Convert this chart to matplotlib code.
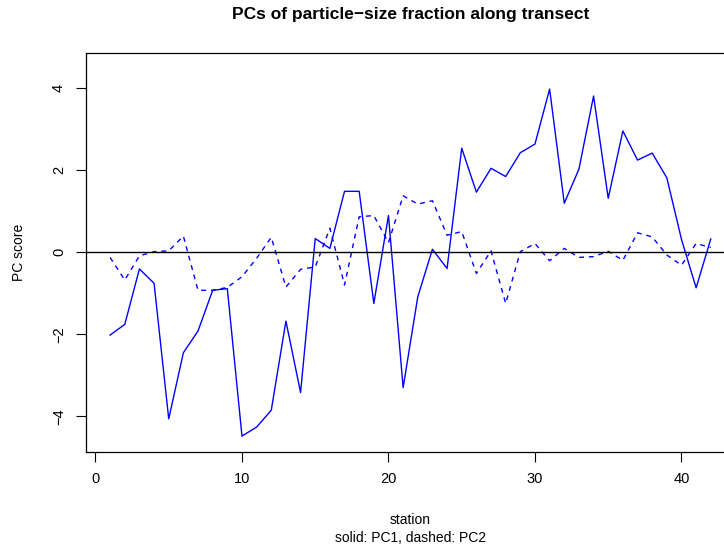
import matplotlib
matplotlib.use('Agg')
import matplotlib.pyplot as plt

plt.rcParams['font.family'] = ['Liberation Sans', 'DejaVu Sans']

# station index along the transect
stations = list(range(1, 43))

# PC scores
pc1 = [-2.02, -1.76, -0.41, -0.76, -4.06, -2.45, -1.92, -0.93, -0.89, -4.48,
       -4.26, -3.85, -1.68, -3.42, 0.33, 0.09, 1.48, 1.48, -1.25, 0.89,
       -3.30, -1.09, 0.07, -0.40, 2.53, 1.46, 2.04, 1.84, 2.42, 2.63,
       3.97, 1.19, 2.02, 3.80, 1.31, 2.95, 2.24, 2.41, 1.81, 0.31,
       -0.87, 0.32]
pc2 = [-0.13, -0.68, -0.09, 0.01, 0.03, 0.39, -0.93, -0.93, -0.86, -0.60,
       -0.15, 0.36, -0.85, -0.42, -0.36, 0.58, -0.80, 0.86, 0.89, 0.23,
       1.37, 1.17, 1.25, 0.41, 0.50, -0.52, 0.03, -1.25, 0.01, 0.21,
       -0.21, 0.09, -0.13, -0.11, 0.02, -0.20, 0.47, 0.37, -0.07, -0.32,
       0.21, 0.11]

xticks = [0, 10, 20, 30, 40]
yticks = [-4, -2, 0, 2, 4]

W, H = 724, 551
fig = plt.figure(figsize=(W / 100, H / 100), dpi=100)

# plot region runs past the right edge, as in the reference
left, right, top, bottom = 86.1, 734.8, 52.5, 451.7
ax = fig.add_axes([left / W, 1 - bottom / H, (right - left) / W, (bottom - top) / H])

ax.plot(stations, pc1, color='#0000ff', lw=1.0)
ax.plot(stations, pc2, color='#0000ff', lw=1.0, dashes=(3.5, 3.5))
ax.axhline(0, color='black', lw=1.0)

ax.set_xlim(1 - 0.04 * 41, 42 + 0.04 * 41)
ax.set_ylim(-4.86, 4.86)
ax.set_xticks(xticks)
ax.set_yticks(yticks)
ax.set_yticklabels([str(v).replace('-', '\u2212') for v in yticks],
                   rotation=90, va='center')
ax.tick_params(direction='out', length=7, width=0.8, labelsize=10.5, pad=7.5)

for sp in ax.spines.values():
    sp.set_linewidth(0.9)

cx = ((left + right) / 2) / W
fig.text(cx, 1 - 14 / H, 'PCs of particle\u2212size fraction along transect',
         ha='center', va='center', fontsize=12.5, fontweight='bold')
fig.text(cx, 1 - 520 / H, 'station', ha='center', va='center', fontsize=10)
fig.text(cx, 1 - 538 / H, 'solid: PC1, dashed: PC2', ha='center', va='center',
         fontsize=10)
fig.text(19 / W, 1 - 252 / H, 'PC score', ha='center', va='center',
         rotation=90, fontsize=10)

fig.savefig('out.png', dpi=100)
